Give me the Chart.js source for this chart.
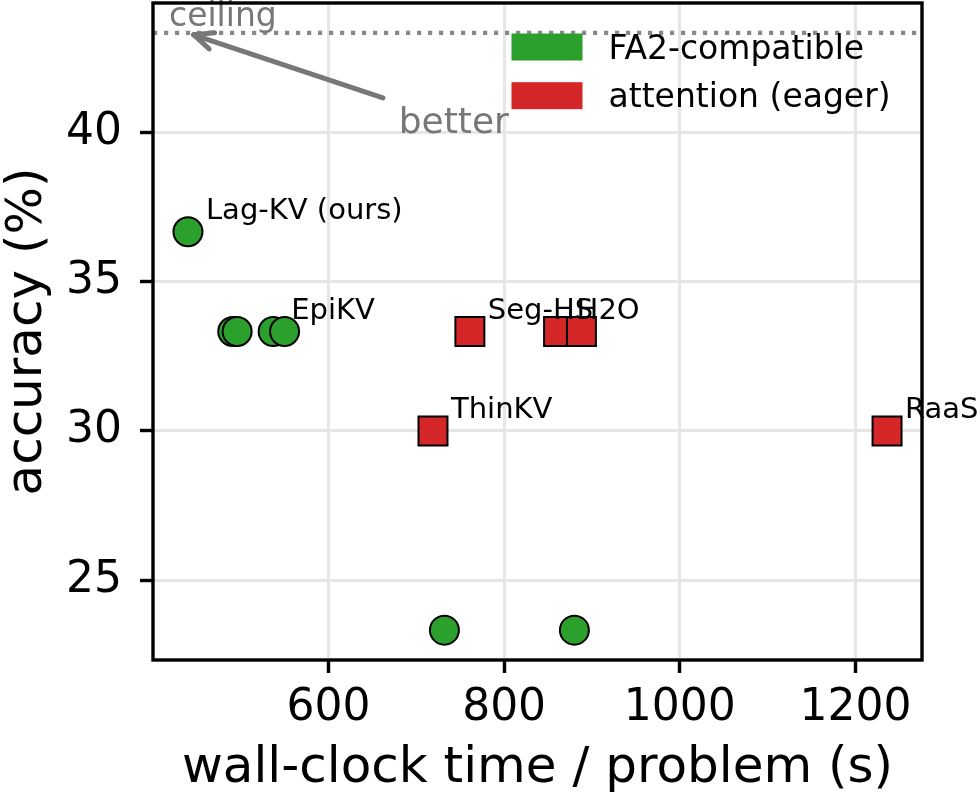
<!DOCTYPE html>
<html>
<head>
<meta charset="utf-8">
<script src="https://cdn.jsdelivr.net/npm/chart.js@4.4.1/dist/chart.umd.min.js"></script>
<style>
  html, body { margin: 0; padding: 0; background: #fff; }
  canvas { display: block; }
</style>
</head>
<body>
<canvas id="c" width="977" height="799"></canvas>
<script>
// ---- data ----
const fa2Time   = [440, 491, 496, 537, 550, 732, 880];
const fa2Acc    = [36.67, 33.33, 33.33, 33.33, 33.33, 23.33, 23.33];
const fa2Names  = ['Lag-KV (ours)', '', '', 'EpiKV', '', '', ''];

const eagerTime  = [719, 761, 862, 888, 1236];
const eagerAcc   = [30.0, 33.33, 33.33, 33.33, 30.0];
const eagerNames = ['ThinKV', 'Seg-HS', 'H2O', '', 'RaaS'];

const seriesLabels = ['FA2-compatible', 'attention (eager)'];
const xTicks = [600, 800, 1000, 1200];
const yTicks = [25, 30, 35, 40];
const xLimits = [400.2, 1275.8];
const yLimits = [22.33, 44.33];
const ceilingValue = 43.33;
const betterText = { x: 680, y: 40 };
const arrowFrom = { x: 662, y: 41.15 };
const arrowTo = { x: 440, y: 43.33 };

const GREEN = '#2ca02c', RED = '#d62728', GREY = '#777777';
const FONT = "'DejaVu Sans', sans-serif";

const toPts = (xs, ys) => xs.map((x, i) => ({ x: x, y: ys[i] }));

const overlay = {
  id: 'overlay',
  afterDatasetsDraw(chart) {
    const { ctx, chartArea: a, scales: { x, y } } = chart;
    ctx.save();
    // ceiling line
    const cy = y.getPixelForValue(ceilingValue);
    ctx.strokeStyle = '#888888';
    ctx.lineWidth = 4.2;
    ctx.setLineDash([4.2, 6.8]);
    ctx.beginPath(); ctx.moveTo(a.left, cy); ctx.lineTo(a.right, cy); ctx.stroke();
    ctx.setLineDash([]);
    // ceiling label
    ctx.fillStyle = GREY;
    ctx.font = '33px ' + FONT;
    ctx.textAlign = 'left'; ctx.textBaseline = 'alphabetic';
    ctx.fillText('ceiling', a.left + 16, cy - 7);

    // arrow
    const x0 = x.getPixelForValue(arrowFrom.x), y0 = y.getPixelForValue(arrowFrom.y);
    let x1 = x.getPixelForValue(arrowTo.x), y1 = y.getPixelForValue(arrowTo.y);
    const ang = Math.atan2(y1 - y0, x1 - x0);
    x1 -= Math.cos(ang) * 6; y1 -= Math.sin(ang) * 6;
    ctx.strokeStyle = GREY; ctx.lineWidth = 5; ctx.lineCap = 'round'; ctx.lineJoin = 'round';
    ctx.beginPath(); ctx.moveTo(x0, y0); ctx.lineTo(x1, y1); ctx.stroke();
    const hl = 21, hw = 0.42;
    ctx.beginPath();
    ctx.moveTo(x1 - Math.cos(ang - hw) * hl, y1 - Math.sin(ang - hw) * hl);
    ctx.lineTo(x1, y1);
    ctx.lineTo(x1 - Math.cos(ang + hw) * hl, y1 - Math.sin(ang + hw) * hl);
    ctx.stroke();
    ctx.font = '36px ' + FONT;
    ctx.fillText('better', x.getPixelForValue(betterText.x), y.getPixelForValue(betterText.y) + 1);

    // point labels
    ctx.fillStyle = '#000';
    ctx.font = '29px ' + FONT;
    const lab = (xs, ys, names) => names.forEach((n, i) => {
      if (!n) return;
      ctx.fillText(n, x.getPixelForValue(xs[i]) + 18, y.getPixelForValue(ys[i]) - 13);
    });
    lab(fa2Time, fa2Acc, fa2Names);
    lab(eagerTime, eagerAcc, eagerNames);
    ctx.restore();
  },
  afterDraw(chart) {
    const { ctx, chartArea: a } = chart;
    ctx.save();
    // legend (no frame)
    const colors = [GREEN, RED];
    const bx = a.right - 410.5, by = a.top + 30.5;
    ctx.font = '33px ' + FONT;
    ctx.textAlign = 'left'; ctx.textBaseline = 'alphabetic';
    seriesLabels.forEach((t, i) => {
      const top = by + i * 48.7;
      ctx.fillStyle = colors[i];
      ctx.fillRect(bx, top, 71, 27);
      ctx.fillStyle = '#000';
      ctx.fillText(t, bx + 97, top + 25);
    });
    // frame
    ctx.strokeStyle = '#000';
    ctx.lineWidth = 3.4;
    ctx.lineJoin = 'miter';
    ctx.strokeRect(a.left, a.top, a.right - a.left, a.bottom - a.top);
    ctx.restore();
  }
};

const noPad = s => { s.paddingTop = 0; s.paddingBottom = 0; s.paddingLeft = 0; s.paddingRight = 0; };

new Chart(document.getElementById('c'), {
  type: 'scatter',
  data: {
    datasets: [
      {
        label: seriesLabels[0],
        data: toPts(fa2Time, fa2Acc),
        pointStyle: 'circle',
        backgroundColor: GREEN, borderColor: '#000', borderWidth: 2,
        pointRadius: 14.5, pointHoverRadius: 14.5
      },
      {
        label: seriesLabels[1],
        data: toPts(eagerTime, eagerAcc),
        pointStyle: 'rect',
        backgroundColor: RED, borderColor: '#000', borderWidth: 2,
        pointRadius: 20.5, pointHoverRadius: 20.5
      }
    ]
  },
  options: {
    responsive: false,
    animation: false,
    devicePixelRatio: 1,
    layout: { autoPadding: false, padding: { top: 3, right: 55, bottom: 0, left: 0 } },
    plugins: { legend: { display: false }, tooltip: { enabled: false } },
    scales: {
      x: {
        type: 'linear', min: xLimits[0], max: xLimits[1],
        afterBuildTicks: s => { s.ticks = xTicks.map(v => ({ value: v })); },
        afterFit: s => { s.height = 139; noPad(s); },
        border: { display: false },
        grid: { color: '#e6e6e6', lineWidth: 3, tickColor: '#000', tickLength: 13, tickWidth: 3.4 },
        ticks: { font: { family: FONT, size: 44 }, color: '#000', padding: 9, maxRotation: 0, autoSkip: false,
                 callback: v => String(v) },
        title: { display: true, text: 'wall-clock time / problem (s)', color: '#000',
                 font: { family: FONT, size: 50 }, padding: { top: 0, bottom: 0 } }
      },
      y: {
        type: 'linear', min: yLimits[0], max: yLimits[1],
        afterBuildTicks: s => { s.ticks = yTicks.map(v => ({ value: v })); },
        afterFit: s => { s.width = 153; noPad(s); },
        border: { display: false },
        grid: { color: '#e6e6e6', lineWidth: 3, tickColor: '#000', tickLength: 13, tickWidth: 3.4 },
        ticks: { font: { family: FONT, size: 44 }, color: '#000', padding: 18, callback: v => String(v) },
        title: { display: true, text: 'accuracy (%)', color: '#000',
                 font: { family: FONT, size: 50 }, padding: { top: -2, bottom: 0 } }
      }
    }
  },
  plugins: [overlay]
});
</script>
</body>
</html>
